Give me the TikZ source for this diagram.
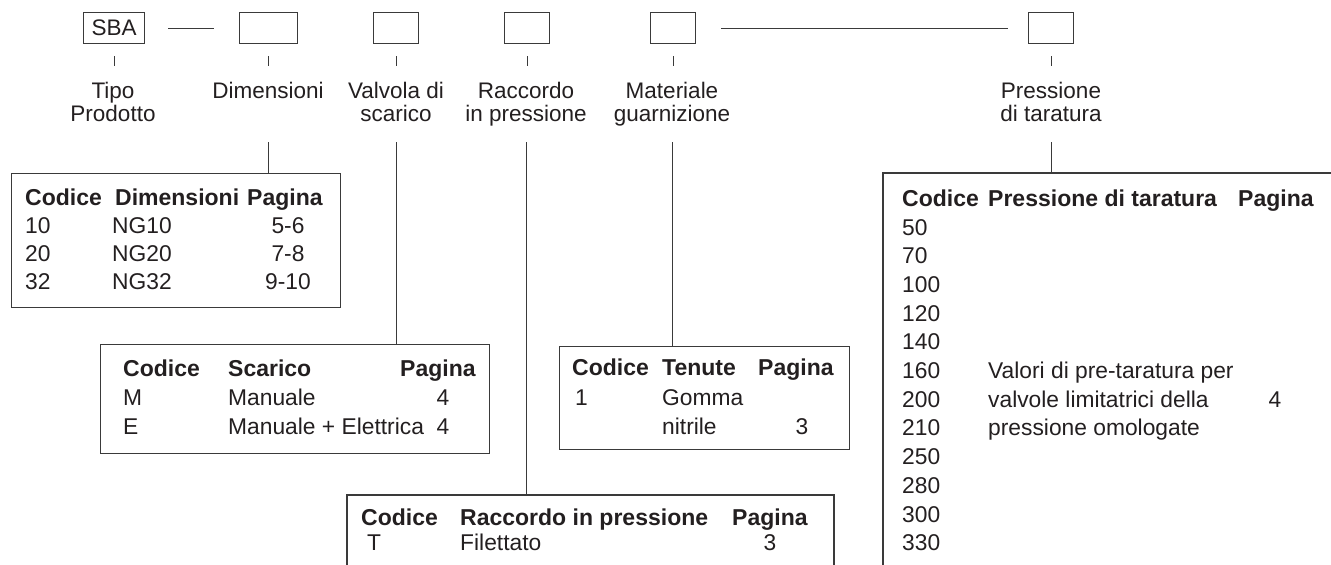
\documentclass[tikz,border=0pt]{standalone}
\usepackage{fontspec}
\setmainfont{Liberation Sans}
\definecolor{linec}{HTML}{3A3A3A}
\definecolor{txtc}{HTML}{231F20}
\begin{document}
\begin{tikzpicture}[x=1pt,y=-1pt,
  ln/.style={draw=linec, line width=1.2pt},
  topbox/.style={draw=linec, line width=1.2pt, anchor=north west, inner sep=0pt,
     minimum height=31pt, font=\fontsize{22.5}{24}\selectfont, text=txtc},
  tbox/.style={draw=linec, line width=1.2pt, anchor=north west, inner sep=0pt},
  lbl/.style={font=\fontsize{22.5}{24}\selectfont, anchor=base, inner sep=0pt, text=txtc},
  td/.style={font=\fontsize{22.8}{24}\selectfont, anchor=base west, inner sep=0pt, text=txtc},
  tdc/.style={font=\fontsize{22.8}{24}\selectfont, anchor=base, inner sep=0pt, text=txtc},
  th/.style={font=\fontsize{23}{25}\selectfont\bfseries, anchor=base west, inner sep=0pt, text=txtc}
]
\useasboundingbox (0,0) rectangle (1331,565);

% top boxes
\node[topbox, minimum width=61pt] (b1) at (83,12) {SBA};
\node[topbox, minimum width=58pt] (b2) at (239,12) {};
\node[topbox, minimum width=45pt] (b3) at (373,12) {};
\node[topbox, minimum width=45pt] (b4) at (504,12) {};
\node[topbox, minimum width=45pt] (b5) at (650,12) {};
\node[topbox, minimum width=45pt] (b6) at (1028,12) {};

\draw[ln] ([xshift=23pt]b1.east) -- ([xshift=-25pt]b2.west);
\draw[ln] ([xshift=25pt]b5.east) -- ([xshift=-20pt]b6.west);

% ticks
\foreach \b in {b1,b2,b3,b4,b5,b6}
  \draw[ln, line width=1pt] ([yshift=-12pt]\b.south) -- ++(0,10);

% labels
\node[lbl] (l1a) at (113,98) {Tipo};
\node[lbl] (l1b) at (113,121) {Prodotto};
\node[lbl] (l2a) at (268,98) {Dimensioni};
\node[lbl] (l3a) at (396,98) {Valvola di};
\node[lbl] (l3b) at (396,121) {scarico};
\node[lbl] (l4a) at (526,98) {Raccordo};
\node[lbl] (l4b) at (526,121) {in pressione};
\node[lbl] (l5a) at (672,98) {Materiale};
\node[lbl] (l5b) at (672,121) {guarnizione};
\node[lbl] (l6a) at (1051,98) {Pressione};
\node[lbl] (l6b) at (1051,121) {di taratura};

% tables
\node[tbox, minimum width=329pt, minimum height=134pt] (dimbox) at (11,173) {};
\node[tbox, minimum width=389pt, minimum height=109pt] (scbox) at (100,344) {};
\node[tbox, minimum width=290pt, minimum height=103pt] (matbox) at (559,346) {};
\coordinate (rkBL) at (347,570);
\coordinate (rkTL) at (347,495);
\coordinate (rkTR) at (834,495);
\coordinate (rkBR) at (834,570);
\draw[ln] (rkBL) -- (rkTL) -- (rkTR) -- (rkBR);
\coordinate (prBL) at (883,570);
\coordinate (prTL) at (883,173);
\coordinate (prTR) at (1340,173);
\draw[ln] (prBL) -- (prTL) -- (prTR);

% connectors from labels to tables
\coordinate (c2) at (268,142);
\coordinate (c3) at (396,142);
\coordinate (c4) at (526,142);
\coordinate (c5) at (672,142);
\coordinate (c6) at (1051,142);
\draw[ln, line width=1pt] (c2) -- (c2 |- dimbox.north);
\draw[ln, line width=1pt] (c3) -- (c3 |- scbox.north);
\draw[ln, line width=1pt] (c4) -- (c4 |- rkTL);
\draw[ln, line width=1pt] (c5) -- (c5 |- matbox.north);
\draw[ln, line width=1pt] (c6) -- (c6 |- prTL);

% Dimensioni table
\node[th] (dh1) at (25,205) {Codice};
\node[th] (dh2) at (115,205) {Dimensioni};
\node[th] (dh3) at (247,205) {Pagina};
\node[td] (d11) at (25,233) {10};
\node[td] (d12) at (112,233) {NG10};
\node[tdc] (d13) at (288,233) {5-6};
\node[td] (d21) at (25,261) {20};
\node[td] (d22) at (112,261) {NG20};
\node[tdc] (d23) at (288,261) {7-8};
\node[td] (d31) at (25,289) {32};
\node[td] (d32) at (112,289) {NG32};
\node[tdc] (d33) at (288,289) {9-10};

% Scarico table
\node[th] (sh1) at (123,376) {Codice};
\node[th] (sh2) at (228,376) {Scarico};
\node[th] (sh3) at (400,376) {Pagina};
\node[td] (s11) at (123,405) {M};
\node[td] (s12) at (228,405) {Manuale};
\node[tdc] (s13) at (443,405) {4};
\node[td] (s21) at (123,434) {E};
\node[td] (s22) at (228,434) {Manuale + Elettrica};
\node[tdc] (s23) at (443,434) {4};

% Materiale table
\node[th] (mh1) at (572,375) {Codice};
\node[th] (mh2) at (662,375) {Tenute};
\node[th] (mh3) at (758,375) {Pagina};
\node[td] (m11) at (575,405) {1};
\node[td] (m12) at (662,405) {Gomma};
\node[td] (m22) at (662,434) {nitrile};
\node[tdc] (m23) at (802,434) {3};

% Raccordo table
\node[th] (rh1) at (361,525) {Codice};
\node[th] (rh2) at (460,525) {Raccordo in pressione};
\node[th] (rh3) at (732,525) {Pagina};
\node[td] (r11) at (367,550) {T};
\node[td] (r12) at (460,550) {Filettato};
\node[tdc] (r13) at (770,550) {3};

% Pressione table
\node[th] (ph1) at (902,206) {Codice};
\node[th] (ph2) at (988,206) {Pressione di taratura};
\node[th] (ph3) at (1238,206) {Pagina};
\foreach \v [count=\i from 0] in {50,70,100,120,140,160,200,210,250,280,300,330}
  \node[td] (pv\i) at ({902},{235+\i*28.7}) {\v};
\node[td] (pt1) at ({988},{235+5*28.7}) {Valori di pre-taratura per};
\node[td] (pt2) at ({988},{235+6*28.7}) {valvole limitatrici della};
\node[td] (pt3) at ({988},{235+7*28.7}) {pressione omologate};
\node[tdc] (pp) at ({1275},{235+6*28.7}) {4};
\end{tikzpicture}
\end{document}
